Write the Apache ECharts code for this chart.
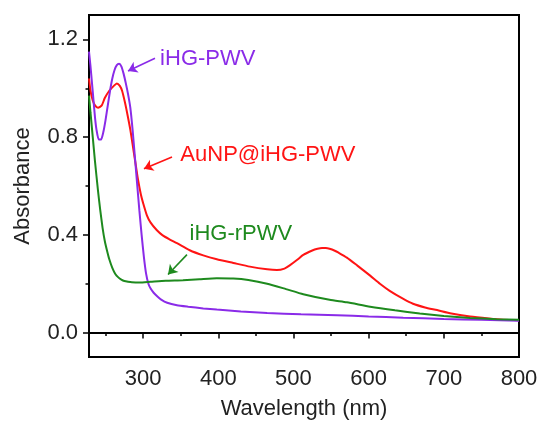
<!DOCTYPE html>
<html>
<head>
<meta charset="utf-8">
<script src="https://cdn.jsdelivr.net/npm/echarts@6/dist/echarts.min.js"></script>
<style>html,body{margin:0;padding:0;background:#fff;}#c{width:541px;height:425px;}</style>
</head>
<body>
<div id="c"></div>
<script>
// ---- data ----
var redX = [228,230,233,236,240,245,249,255,261,265,269,272,276,279,283,286,290,293,297,300,305,310,318,326,335,345,362,380,398,420,442,465,478,488,495,505,513,525,532,538,543,548,555,560,571,585,602,615,628,645,659,675,691,710,735,760,779,800];
var redY = [1.04,0.99,0.95,0.93,0.92,0.93,0.96,0.99,1.01,1.02,1.01,0.99,0.94,0.895,0.83,0.77,0.69,0.63,0.565,0.53,0.48,0.45,0.42,0.398,0.382,0.366,0.337,0.316,0.30,0.285,0.27,0.259,0.256,0.262,0.275,0.298,0.318,0.336,0.343,0.346,0.346,0.343,0.335,0.327,0.307,0.274,0.233,0.20,0.171,0.14,0.118,0.103,0.092,0.078,0.066,0.058,0.053,0.05];

var purpleX = [228,230,232,234,236,238,241,244,247,250,253,256,259,262,265,268,271,274,277,280,283,286,289,292,295,298,301,304,307,310,314,319,324,332,345,360,380,398,430,465,510,558,600,646,700,750,800];
var purpleY = [1.15,1.09,1.02,0.95,0.88,0.83,0.79,0.79,0.82,0.87,0.93,0.99,1.04,1.075,1.095,1.10,1.09,1.06,1.02,0.975,0.92,0.83,0.72,0.61,0.50,0.40,0.31,0.24,0.20,0.18,0.163,0.148,0.135,0.122,0.112,0.106,0.099,0.094,0.086,0.080,0.075,0.071,0.066,0.061,0.056,0.052,0.048];

var greenX = [228,230,233,236,240,243,246,249,252,255,259,263,267,271,275,280,285,295,310,330,353,375,398,420,440,465,490,513,548,571,602,635,668,700,735,770,800];
var greenY = [0.97,0.90,0.80,0.70,0.58,0.50,0.43,0.375,0.335,0.30,0.265,0.24,0.226,0.217,0.211,0.208,0.206,0.205,0.208,0.212,0.214,0.218,0.222,0.221,0.215,0.200,0.178,0.157,0.134,0.124,0.106,0.091,0.078,0.068,0.06,0.055,0.052];

var xMajor = [300,400,500,600,700,800];
var xMinor = [250,350,450,550,650,750];
var yMajor = [0.0,0.4,0.8,1.2];
var yMinor = [0.2,0.6,1.0];

var seriesNames = ['AuNP@iHG-PWV','iHG-PWV','iHG-rPWV'];
// annotation label anchors and arrows (data coordinates)
var labelPos = {'iHG-PWV':[386,1.121], 'AuNP@iHG-PWV':[466,0.727], 'iHG-rPWV':[430,0.404]};
var arrowFrom = {'iHG-PWV':[315.8,1.123], 'AuNP@iHG-PWV':[338.4,0.719], 'iHG-rPWV':[358.3,0.319]};
var arrowTo = {'iHG-PWV':[279.9,1.071], 'AuNP@iHG-PWV':[301.1,0.671], 'iHG-rPWV':[333.1,0.238]};

var colors = {'AuNP@iHG-PWV':'#FF1414','iHG-PWV':'#8A2BE8','iHG-rPWV':'#1E8A1E'};
var xs = {'AuNP@iHG-PWV':redX,'iHG-PWV':purpleX,'iHG-rPWV':greenX};
var ys = {'AuNP@iHG-PWV':redY,'iHG-PWV':purpleY,'iHG-rPWV':greenY};

function zip(a,b){var r=[];for(var i=0;i<a.length;i++)r.push([a[i],b[i]]);return r;}

var FONT = 'Liberation Sans, Arial, sans-serif';
var FS = 22;

var series = seriesNames.map(function(n){
  var c = colors[n];
  return {
    name:n, type:'line', data:zip(xs[n],ys[n]), showSymbol:false, symbol:'none',
    smooth:0.2,
    lineStyle:{color:c,width:2}, itemStyle:{color:c}, animation:false, silent:true,
    markLine:{
      silent:true, animation:false, symbol:['none','arrow'], symbolSize:9,
      lineStyle:{color:c,width:1.6,type:'solid'}, label:{show:false},
      data:[[{coord:arrowFrom[n]},{coord:arrowTo[n]}]]
    },
    markPoint:{
      silent:true, animation:false, symbol:'circle', symbolSize:1, itemStyle:{color:'rgba(0,0,0,0)'},
      label:{show:true, position:'inside', formatter:n, color:c, fontSize:FS, fontFamily:FONT},
      data:[{coord:labelPos[n]}]
    }
  };
});

var chart = echarts.init(document.getElementById('c'), null, {renderer:'canvas'});
chart.setOption({
  backgroundColor:'#fff',
  animation:false,
  grid:{left:89,right:22,top:15,bottom:63,show:true,borderColor:'#000',borderWidth:2,containLabel:false},
  xAxis:[{
    type:'value', min:228, max:800,
    name:'Wavelength (nm)', nameLocation:'middle', nameGap:41,
    nameTextStyle:{fontSize:FS,color:'#222',fontFamily:FONT},
    axisLine:{show:true,lineStyle:{color:'#000',width:2}},
    axisTick:{show:true,inside:false,length:6,customValues:xMajor,lineStyle:{color:'#000',width:1.5}},
    axisLabel:{customValues:xMajor,fontSize:FS,color:'#222',fontFamily:FONT,margin:11},
    splitLine:{show:false}
  },{
    type:'value', min:228, max:800, position:'bottom',
    axisLine:{show:false},
    axisTick:{show:true,inside:false,length:3.5,customValues:xMinor,lineStyle:{color:'#000',width:1.5}},
    axisLabel:{show:false}, splitLine:{show:false}
  }],
  yAxis:[{
    type:'value', min:-0.1, max:1.3,
    name:'Absorbance', nameLocation:'middle', nameGap:55,
    nameTextStyle:{fontSize:FS,color:'#222',fontFamily:FONT},
    axisLine:{show:true,lineStyle:{color:'#000',width:2}},
    axisTick:{show:true,inside:false,length:6,customValues:yMajor,lineStyle:{color:'#000',width:1.5}},
    axisLabel:{customValues:yMajor,fontSize:FS,color:'#222',fontFamily:FONT,margin:11,
      formatter:function(v){return Number(v).toFixed(1);}},
    splitLine:{show:false}
  },{
    type:'value', min:-0.1, max:1.3, position:'left',
    axisLine:{show:false},
    axisTick:{show:true,inside:false,length:3.5,customValues:yMinor,lineStyle:{color:'#000',width:1.5}},
    axisLabel:{show:false}, splitLine:{show:false}
  }],
  series:series
});
</script>
</body>
</html>
